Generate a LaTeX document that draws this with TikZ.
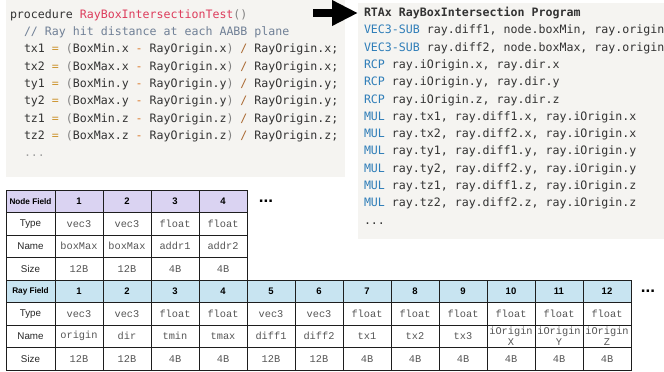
\documentclass[tikz,border=0pt]{standalone}
\usepackage{fontspec}
\setmainfont{Liberation Sans}
\newfontfamily\codefont{DejaVu Sans Mono}
\newfontfamily\cellmono{Liberation Mono}
\usetikzlibrary{arrows.meta}
\definecolor{codebg}{RGB}{245,244,241}
\definecolor{codetxt}{RGB}{51,51,51}
\definecolor{fncol}{RGB}{221,60,92}
\definecolor{pncol}{RGB}{130,130,130}
\definecolor{cmtcol}{RGB}{112,128,150}
\definecolor{eqcol}{RGB}{205,150,50}
\definecolor{mncol}{RGB}{220,120,40}
\definecolor{slcol}{RGB}{170,105,50}
\definecolor{dotcol}{RGB}{160,160,160}
\definecolor{opcol}{RGB}{46,125,184}
\definecolor{nodehd}{RGB}{218,211,242}
\definecolor{rayhd}{RGB}{200,228,241}
\definecolor{tline}{RGB}{30,30,30}
\definecolor{valcol}{RGB}{85,85,85}
\newcommand{\opq}[1]{\textcolor{eqcol}{#1}}
\newcommand{\opm}[1]{\textcolor{mncol}{#1}}
\newcommand{\ops}[1]{\textcolor{slcol}{#1}}
\newcommand{\pnc}[1]{\textcolor{pncol}{#1}}
\newcommand{\opc}[1]{\textcolor{opcol}{#1}}
\tikzset{
  codeline/.style={anchor=base west, inner sep=0pt, outer sep=0pt, text=codetxt,
    font={\codefont\fontsize{11.6}{14}\selectfont}},
  cell/.style={draw=tline, line width=1pt, minimum width=48pt, minimum height=22.5pt,
    inner sep=0pt, outer sep=0pt, anchor=north west},
  hdcell/.style={cell, font={\bfseries\fontsize{9.5}{11}\selectfont}},
  firsthd/.style={cell, minimum width=49pt, font={\bfseries\fontsize{8.2}{10}\selectfont}},
  lblcell/.style={cell, minimum width=49pt, text=black!85, font={\fontsize{9.8}{11}\selectfont}},
  valcell/.style={cell, align=center, text=valcol, font={\cellmono\fontsize{10.3}{10.5}\selectfont}},
  moredots/.style={inner sep=0pt, font={\bfseries\fontsize{17}{17}\selectfont}},
}
\begin{document}
\begin{tikzpicture}[x=1pt,y=-1pt]
\useasboundingbox (0,0) rectangle (664,372);
% code panels
\fill[codebg] (6,0) rectangle (345,177);
\fill[codebg] (358,3) rectangle (664,239);
% left code
\node[codeline] (l1) at (10,18.3) {procedure \textcolor{fncol}{RayBoxIntersectionTest}\pnc{()}};
\node[codeline] (l2) at (24,35.6) {\textcolor{cmtcol}{// Ray hit distance at each AABB plane}};
\node[codeline] (l3) at (24,52.9) {tx1 \opq{=} \pnc{(}BoxMin.x \opm{-} RayOrigin.x\pnc{)} \ops{/} RayOrigin.x;};
\node[codeline] (l4) at (24,70.2) {tx2 \opq{=} \pnc{(}BoxMax.x \opm{-} RayOrigin.x\pnc{)} \ops{/} RayOrigin.x;};
\node[codeline] (l5) at (24,87.5) {ty1 \opq{=} \pnc{(}BoxMin.y \opm{-} RayOrigin.y\pnc{)} \ops{/} RayOrigin.y;};
\node[codeline] (l6) at (24,104.8) {ty2 \opq{=} \pnc{(}BoxMax.y \opm{-} RayOrigin.y\pnc{)} \ops{/} RayOrigin.y;};
\node[codeline] (l7) at (24,122.1) {tz1 \opq{=} \pnc{(}BoxMin.z \opm{-} RayOrigin.z\pnc{)} \ops{/} RayOrigin.z;};
\node[codeline] (l8) at (24,139.4) {tz2 \opq{=} \pnc{(}BoxMax.z \opm{-} RayOrigin.z\pnc{)} \ops{/} RayOrigin.z;};
\node[codeline] (l9) at (24,156.7) {\textcolor{dotcol}{...}};
% right code
\node[codeline] (r1) at (364,16.5) {\bfseries RTAx RayBoxIntersection Program};
\node[codeline] (r2) at (364,33.8) {\opc{VEC3-SUB} ray.diff1, node.boxMin, ray.origin};
\node[codeline] (r3) at (364,51.1) {\opc{VEC3-SUB} ray.diff2, node.boxMax, ray.origin};
\node[codeline] (r4) at (364,68.4) {\opc{RCP} ray.iOrigin.x, ray.dir.x};
\node[codeline] (r5) at (364,85.7) {\opc{RCP} ray.iOrigin.y, ray.dir.y};
\node[codeline] (r6) at (364,103.0) {\opc{RCP} ray.iOrigin.z, ray.dir.z};
\node[codeline] (r7) at (364,120.3) {\opc{MUL} ray.tx1, ray.diff1.x, ray.iOrigin.x};
\node[codeline] (r8) at (364,137.6) {\opc{MUL} ray.tx2, ray.diff2.x, ray.iOrigin.x};
\node[codeline] (r9) at (364,154.9) {\opc{MUL} ray.ty1, ray.diff1.y, ray.iOrigin.y};
\node[codeline] (r10) at (364,172.2) {\opc{MUL} ray.ty2, ray.diff2.y, ray.iOrigin.y};
\node[codeline] (r11) at (364,189.5) {\opc{MUL} ray.tz1, ray.diff1.z, ray.iOrigin.z};
\node[codeline] (r12) at (364,206.8) {\opc{MUL} ray.tz2, ray.diff2.z, ray.iOrigin.z};
\node[codeline] (r13) at (364,224.1) {...};
% arrow
\coordinate (arrS) at (313,13);
\coordinate (arrE) at (358,13);
\draw[line width=8pt, -{Triangle[length=26pt,width=24pt]}] (arrS) -- (arrE);
% node table
\node[firsthd, fill=nodehd] (nt-0-0) at (6,190) {Node Field};
\foreach \v [count=\c] in {1,2,3,4}
  \node[hdcell, fill=nodehd] (nt-0-\c) at ({55+48*(\c-1)},190) {\v};
\node[lblcell] (nt-1-0) at (6,212.5) {Type};
\foreach \v [count=\c] in {vec3,vec3,float,float}
  \node[valcell] (nt-1-\c) at ({55+48*(\c-1)},212.5) {\v};
\node[lblcell] (nt-2-0) at (6,235) {Name};
\foreach \v [count=\c] in {boxMax,boxMax,addr1,addr2}
  \node[valcell] (nt-2-\c) at ({55+48*(\c-1)},235) {\v};
\node[lblcell] (nt-3-0) at (6,257.5) {Size};
\foreach \v [count=\c] in {12B,12B,4B,4B}
  \node[valcell] (nt-3-\c) at ({55+48*(\c-1)},257.5) {\v};
\node[moredots] (ntdots) at (266,201) {...};
% ray table
\node[firsthd, fill=rayhd] (rt-0-0) at (6,280) {Ray Field};
\foreach \v [count=\c] in {1,2,3,4,5,6,7,8,9,10,11,12}
  \node[hdcell, fill=rayhd] (rt-0-\c) at ({55+48*(\c-1)},280) {\v};
\node[lblcell] (rt-1-0) at (6,302.5) {Type};
\foreach \v [count=\c] in {vec3,vec3,float,float,vec3,vec3,float,float,float,float,float,float}
  \node[valcell] (rt-1-\c) at ({55+48*(\c-1)},302.5) {\v};
\node[lblcell] (rt-2-0) at (6,325) {Name};
\foreach \v [count=\c] in {origin,dir,tmin,tmax,diff1,diff2,tx1,tx2,tx3,{iOrigin\\X},{iOrigin\\Y},{iOrigin\\Z}}
  \node[valcell] (rt-2-\c) at ({55+48*(\c-1)},325) {\v};
\node[lblcell] (rt-3-0) at (6,347.5) {Size};
\foreach \v [count=\c] in {12B,12B,4B,4B,12B,12B,4B,4B,4B,4B,4B,4B}
  \node[valcell] (rt-3-\c) at ({55+48*(\c-1)},347.5) {\v};
\node[moredots] (rtdots) at (648,291) {...};
\end{tikzpicture}
\end{document}
